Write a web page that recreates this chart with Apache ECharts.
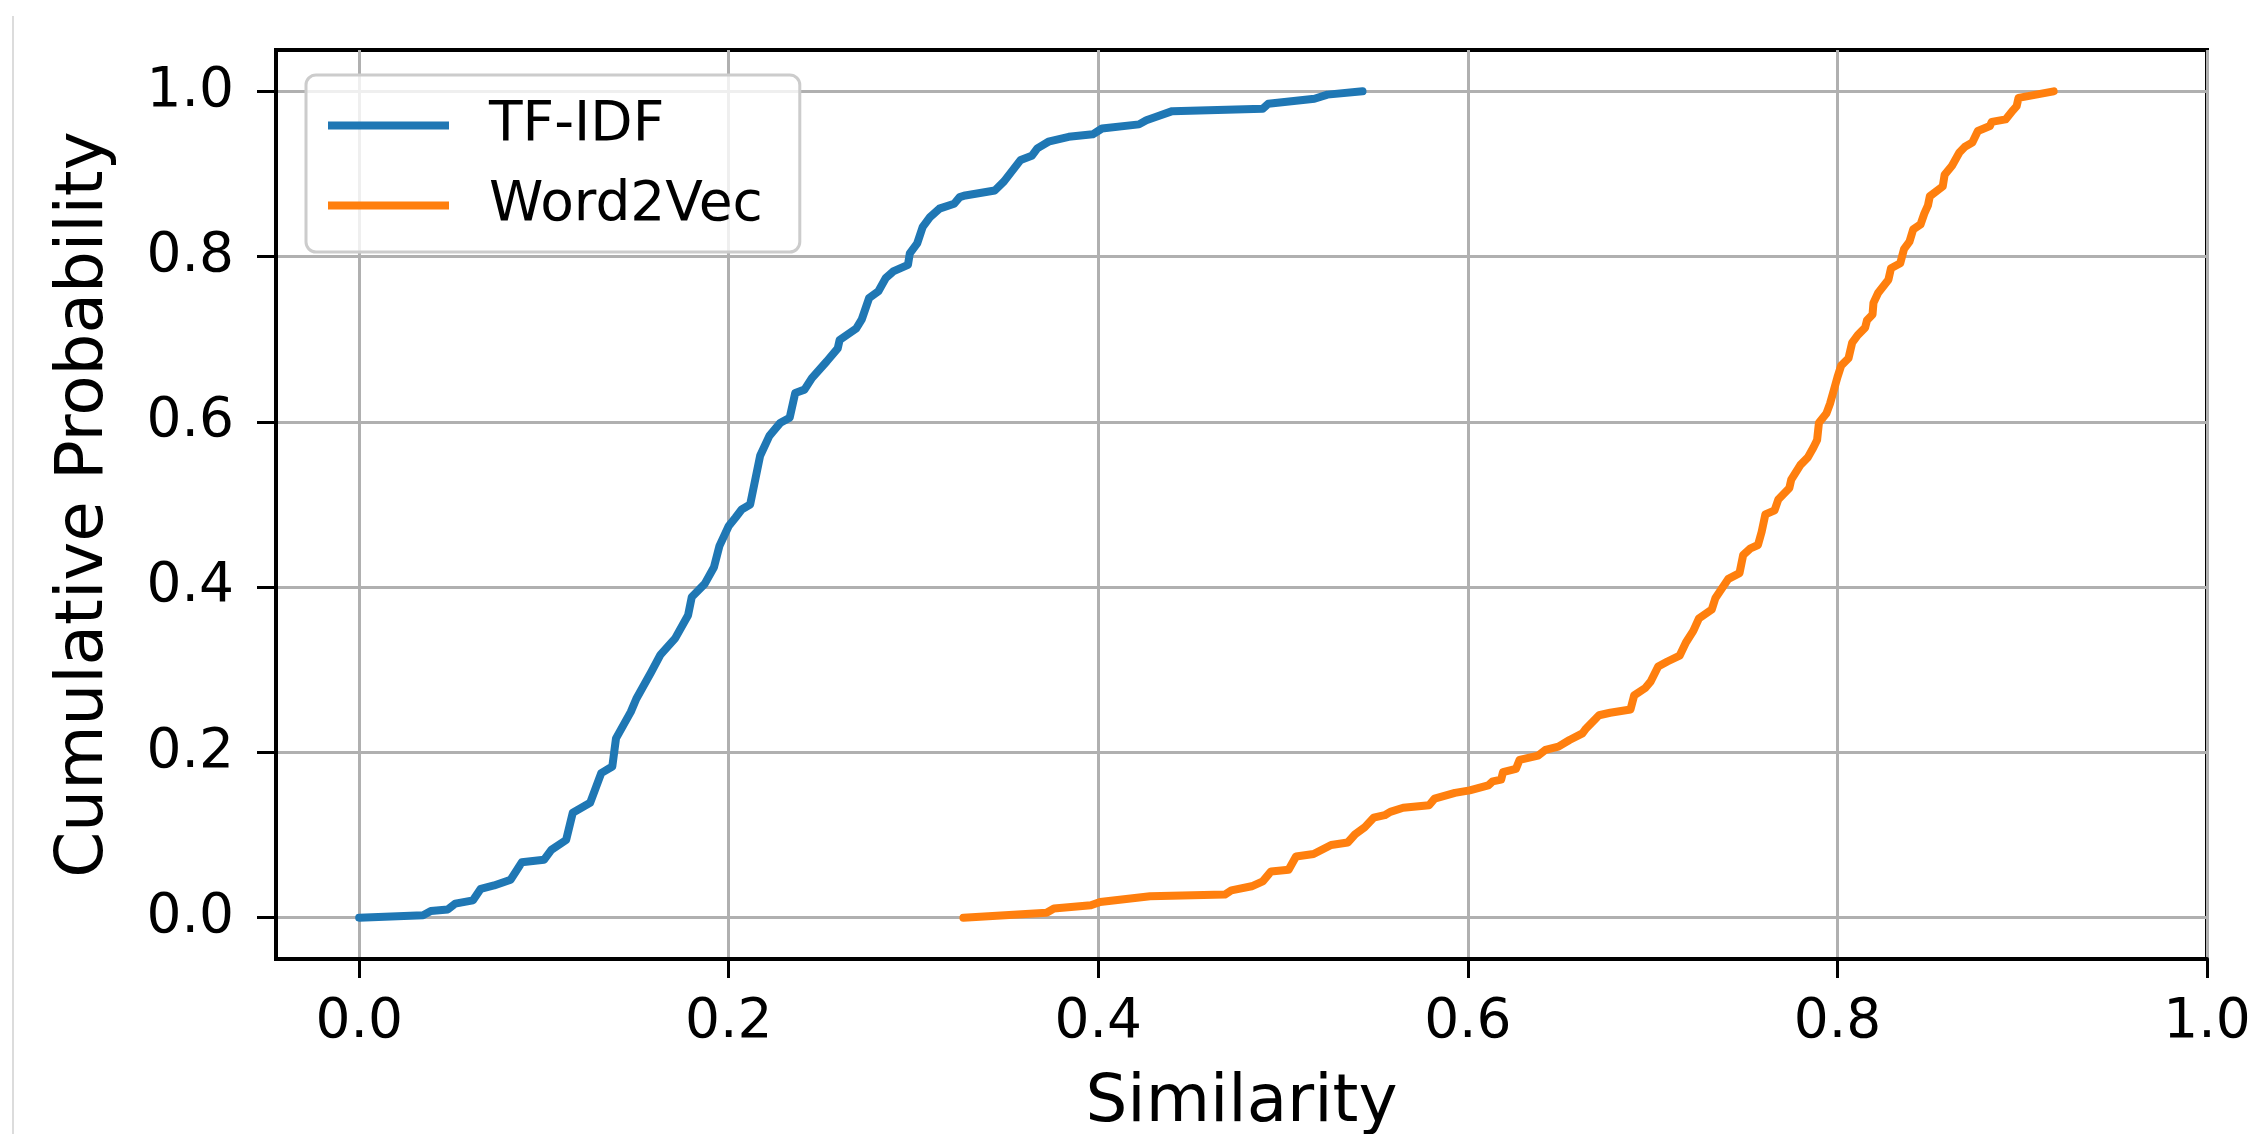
<!DOCTYPE html>
<html>
<head>
<meta charset="utf-8">
<script src="https://cdn.jsdelivr.net/npm/echarts@6/dist/echarts.min.js"></script>
<style>
html,body{margin:0;padding:0;background:#fff;}
#chart{width:2254px;height:1134px;}
</style>
</head>
<body>
<div id="chart"></div>
<script>
// ---- data ----
const seriesNames = ['TF-IDF', 'Word2Vec'];
const xTickValues = [0, 0.2, 0.4, 0.6, 0.8, 1.0];
const yTickValues = [0, 0.2, 0.4, 0.6, 0.8, 1.0];

const tfidfX = [0, 0.0346, 0.0388, 0.048, 0.052, 0.0616, 0.0658, 0.073, 0.082, 0.088,
  0.100, 0.104, 0.112, 0.1156, 0.125, 0.131, 0.137, 0.139, 0.147, 0.150,
  0.158, 0.163, 0.171, 0.178, 0.180, 0.187, 0.192, 0.195, 0.200, 0.2036,
  0.207, 0.2116, 0.217, 0.222, 0.228, 0.233, 0.236, 0.241, 0.245, 0.253,
  0.259, 0.260, 0.269, 0.272, 0.276, 0.281, 0.285, 0.289, 0.297, 0.298,
  0.302, 0.305, 0.309, 0.314, 0.322, 0.325, 0.328, 0.344, 0.349, 0.358,
  0.364, 0.367, 0.373, 0.384, 0.397, 0.402, 0.422, 0.426, 0.431, 0.440,
  0.489, 0.492, 0.517, 0.524, 0.543];
const tfidfY = [0, 0.003, 0.008, 0.010, 0.017, 0.021, 0.035, 0.039, 0.046, 0.067,
  0.070, 0.082, 0.094, 0.127, 0.139, 0.175, 0.183, 0.217, 0.249, 0.265,
  0.297, 0.318, 0.338, 0.366, 0.388, 0.404, 0.424, 0.450, 0.474, 0.484,
  0.494, 0.500, 0.559, 0.583, 0.599, 0.605, 0.635, 0.639, 0.653, 0.673,
  0.689, 0.699, 0.713, 0.724, 0.750, 0.758, 0.774, 0.782, 0.790, 0.804,
  0.816, 0.836, 0.848, 0.858, 0.864, 0.872, 0.874, 0.880, 0.891, 0.917,
  0.922, 0.931, 0.939, 0.945, 0.948, 0.955, 0.960, 0.965, 0.969, 0.976,
  0.979, 0.985, 0.991, 0.996, 1.0];

const w2vX = [0.327, 0.372, 0.376, 0.396, 0.401, 0.428, 0.4685, 0.472, 0.483, 0.489,
  0.4935, 0.503, 0.507, 0.5165, 0.526, 0.535, 0.539, 0.544, 0.549, 0.555,
  0.558, 0.565, 0.579, 0.582, 0.593, 0.601, 0.611, 0.6135, 0.618, 0.619,
  0.626, 0.628, 0.638, 0.642, 0.649, 0.655, 0.662, 0.664, 0.671, 0.677,
  0.688, 0.690, 0.696, 0.699, 0.703, 0.708, 0.7146, 0.718, 0.722, 0.725,
  0.732, 0.734, 0.741, 0.747, 0.749, 0.753, 0.757, 0.759, 0.761, 0.766,
  0.768, 0.774, 0.775, 0.780, 0.784, 0.787, 0.789, 0.790, 0.794, 0.796,
  0.798, 0.800, 0.802, 0.806, 0.808, 0.811, 0.815, 0.816, 0.819, 0.8195,
  0.822, 0.8276, 0.829, 0.834, 0.836, 0.839, 0.841, 0.845, 0.847, 0.849,
  0.850, 0.857, 0.858, 0.862, 0.866, 0.869, 0.873, 0.876, 0.8825, 0.8835,
  0.891, 0.895, 0.897, 0.898, 0.917];
const w2vY = [0, 0.006, 0.011, 0.015, 0.019, 0.026, 0.028, 0.033, 0.038, 0.044,
  0.056, 0.058, 0.074, 0.077, 0.088, 0.091, 0.101, 0.109, 0.121, 0.124,
  0.128, 0.133, 0.136, 0.144, 0.151, 0.154, 0.160, 0.165, 0.167, 0.176,
  0.180, 0.191, 0.196, 0.203, 0.207, 0.215, 0.223, 0.229, 0.245, 0.248,
  0.252, 0.269, 0.278, 0.286, 0.304, 0.310, 0.317, 0.333, 0.347, 0.362,
  0.373, 0.387, 0.410, 0.417, 0.439, 0.447, 0.451, 0.467, 0.488, 0.493,
  0.506, 0.520, 0.530, 0.548, 0.557, 0.569, 0.578, 0.599, 0.610, 0.622,
  0.638, 0.654, 0.668, 0.677, 0.696, 0.705, 0.714, 0.723, 0.730, 0.744,
  0.756, 0.772, 0.786, 0.792, 0.809, 0.818, 0.833, 0.839, 0.852, 0.862,
  0.873, 0.885, 0.899, 0.910, 0.926, 0.933, 0.938, 0.952, 0.958, 0.963,
  0.966, 0.977, 0.982, 0.992, 1.0];

// ---- chart ----
const FONT = 'DejaVu Sans';
const pairs = (xs, ys) => xs.map((x, i) => [x, ys[i]]);
const chart = echarts.init(document.getElementById('chart'), null, {renderer: 'canvas'});

const option = {
  backgroundColor: '#ffffff',
  animation: false,
  textStyle: {fontFamily: FONT, color: '#000'},
  graphic: [{
    type: 'line', silent: true,
    shape: {x1: 13, y1: 16, x2: 13, y2: 1134},
    style: {stroke: '#dcdcdc', lineWidth: 2}
  }],
  grid: {
    left: 276, right: 47, top: 50, bottom: 175,
    containLabel: false,
    outerBoundsMode: 'none',
    show: true, borderColor: '#000', borderWidth: 4, backgroundColor: 'transparent'
  },
  legend: {
    orient: 'vertical',
    left: 306, top: 75,
    padding: [23, 37, 19, 22],
    itemGap: 25,
    itemWidth: 121, itemHeight: 8,
    backgroundColor: 'rgba(255,255,255,0.8)',
    borderColor: '#cccccc', borderWidth: 3, borderRadius: 10,
    textStyle: {fontFamily: FONT, fontSize: 55, color: '#000', padding: [0, 0, 0, 35]},
    data: seriesNames.map(n => ({name: n, icon: 'rect'}))
  },
  xAxis: {
    type: 'value',
    min: -0.045, max: 1.0,
    name: 'Similarity',
    nameLocation: 'middle',
    nameGap: 112,
    nameTextStyle: {fontFamily: FONT, fontSize: 66, color: '#000'},
    axisLine: {show: true, onZero: false, lineStyle: {color: '#000', width: 4}},
    axisTick: {show: true, length: 19, lineStyle: {color: '#000', width: 3}, customValues: xTickValues},
    axisLabel: {fontFamily: FONT, fontSize: 55, color: '#000', margin: 36, customValues: xTickValues,
      formatter: v => v.toFixed(1)},
    splitLine: {show: true, lineStyle: {color: '#b0b0b0', width: 3}}
  },
  yAxis: {
    type: 'value',
    min: -0.05, max: 1.05,
    name: 'Cumulative Probability',
    nameLocation: 'middle',
    nameGap: 158,
    nameTextStyle: {fontFamily: FONT, fontSize: 66, color: '#000'},
    axisLine: {show: true, onZero: false, lineStyle: {color: '#000', width: 4}},
    axisTick: {show: true, length: 19, lineStyle: {color: '#000', width: 3}, customValues: yTickValues},
    axisLabel: {fontFamily: FONT, fontSize: 55, color: '#000', margin: 42, customValues: yTickValues,
      formatter: v => v.toFixed(1)},
    splitLine: {show: true, lineStyle: {color: '#b0b0b0', width: 3}}
  },
  series: [
    {
      name: seriesNames[0], type: 'line', showSymbol: false, symbol: 'none',
      color: '#1f77b4',
      lineStyle: {color: '#1f77b4', width: 8, join: 'round', cap: 'round'},
      data: pairs(tfidfX, tfidfY), z: 3
    },
    {
      name: seriesNames[1], type: 'line', showSymbol: false, symbol: 'none',
      color: '#ff7f0e',
      lineStyle: {color: '#ff7f0e', width: 8, join: 'round', cap: 'round'},
      data: pairs(w2vX, w2vY), z: 3
    }
  ]
};
chart.setOption(option);
</script>
</body>
</html>
